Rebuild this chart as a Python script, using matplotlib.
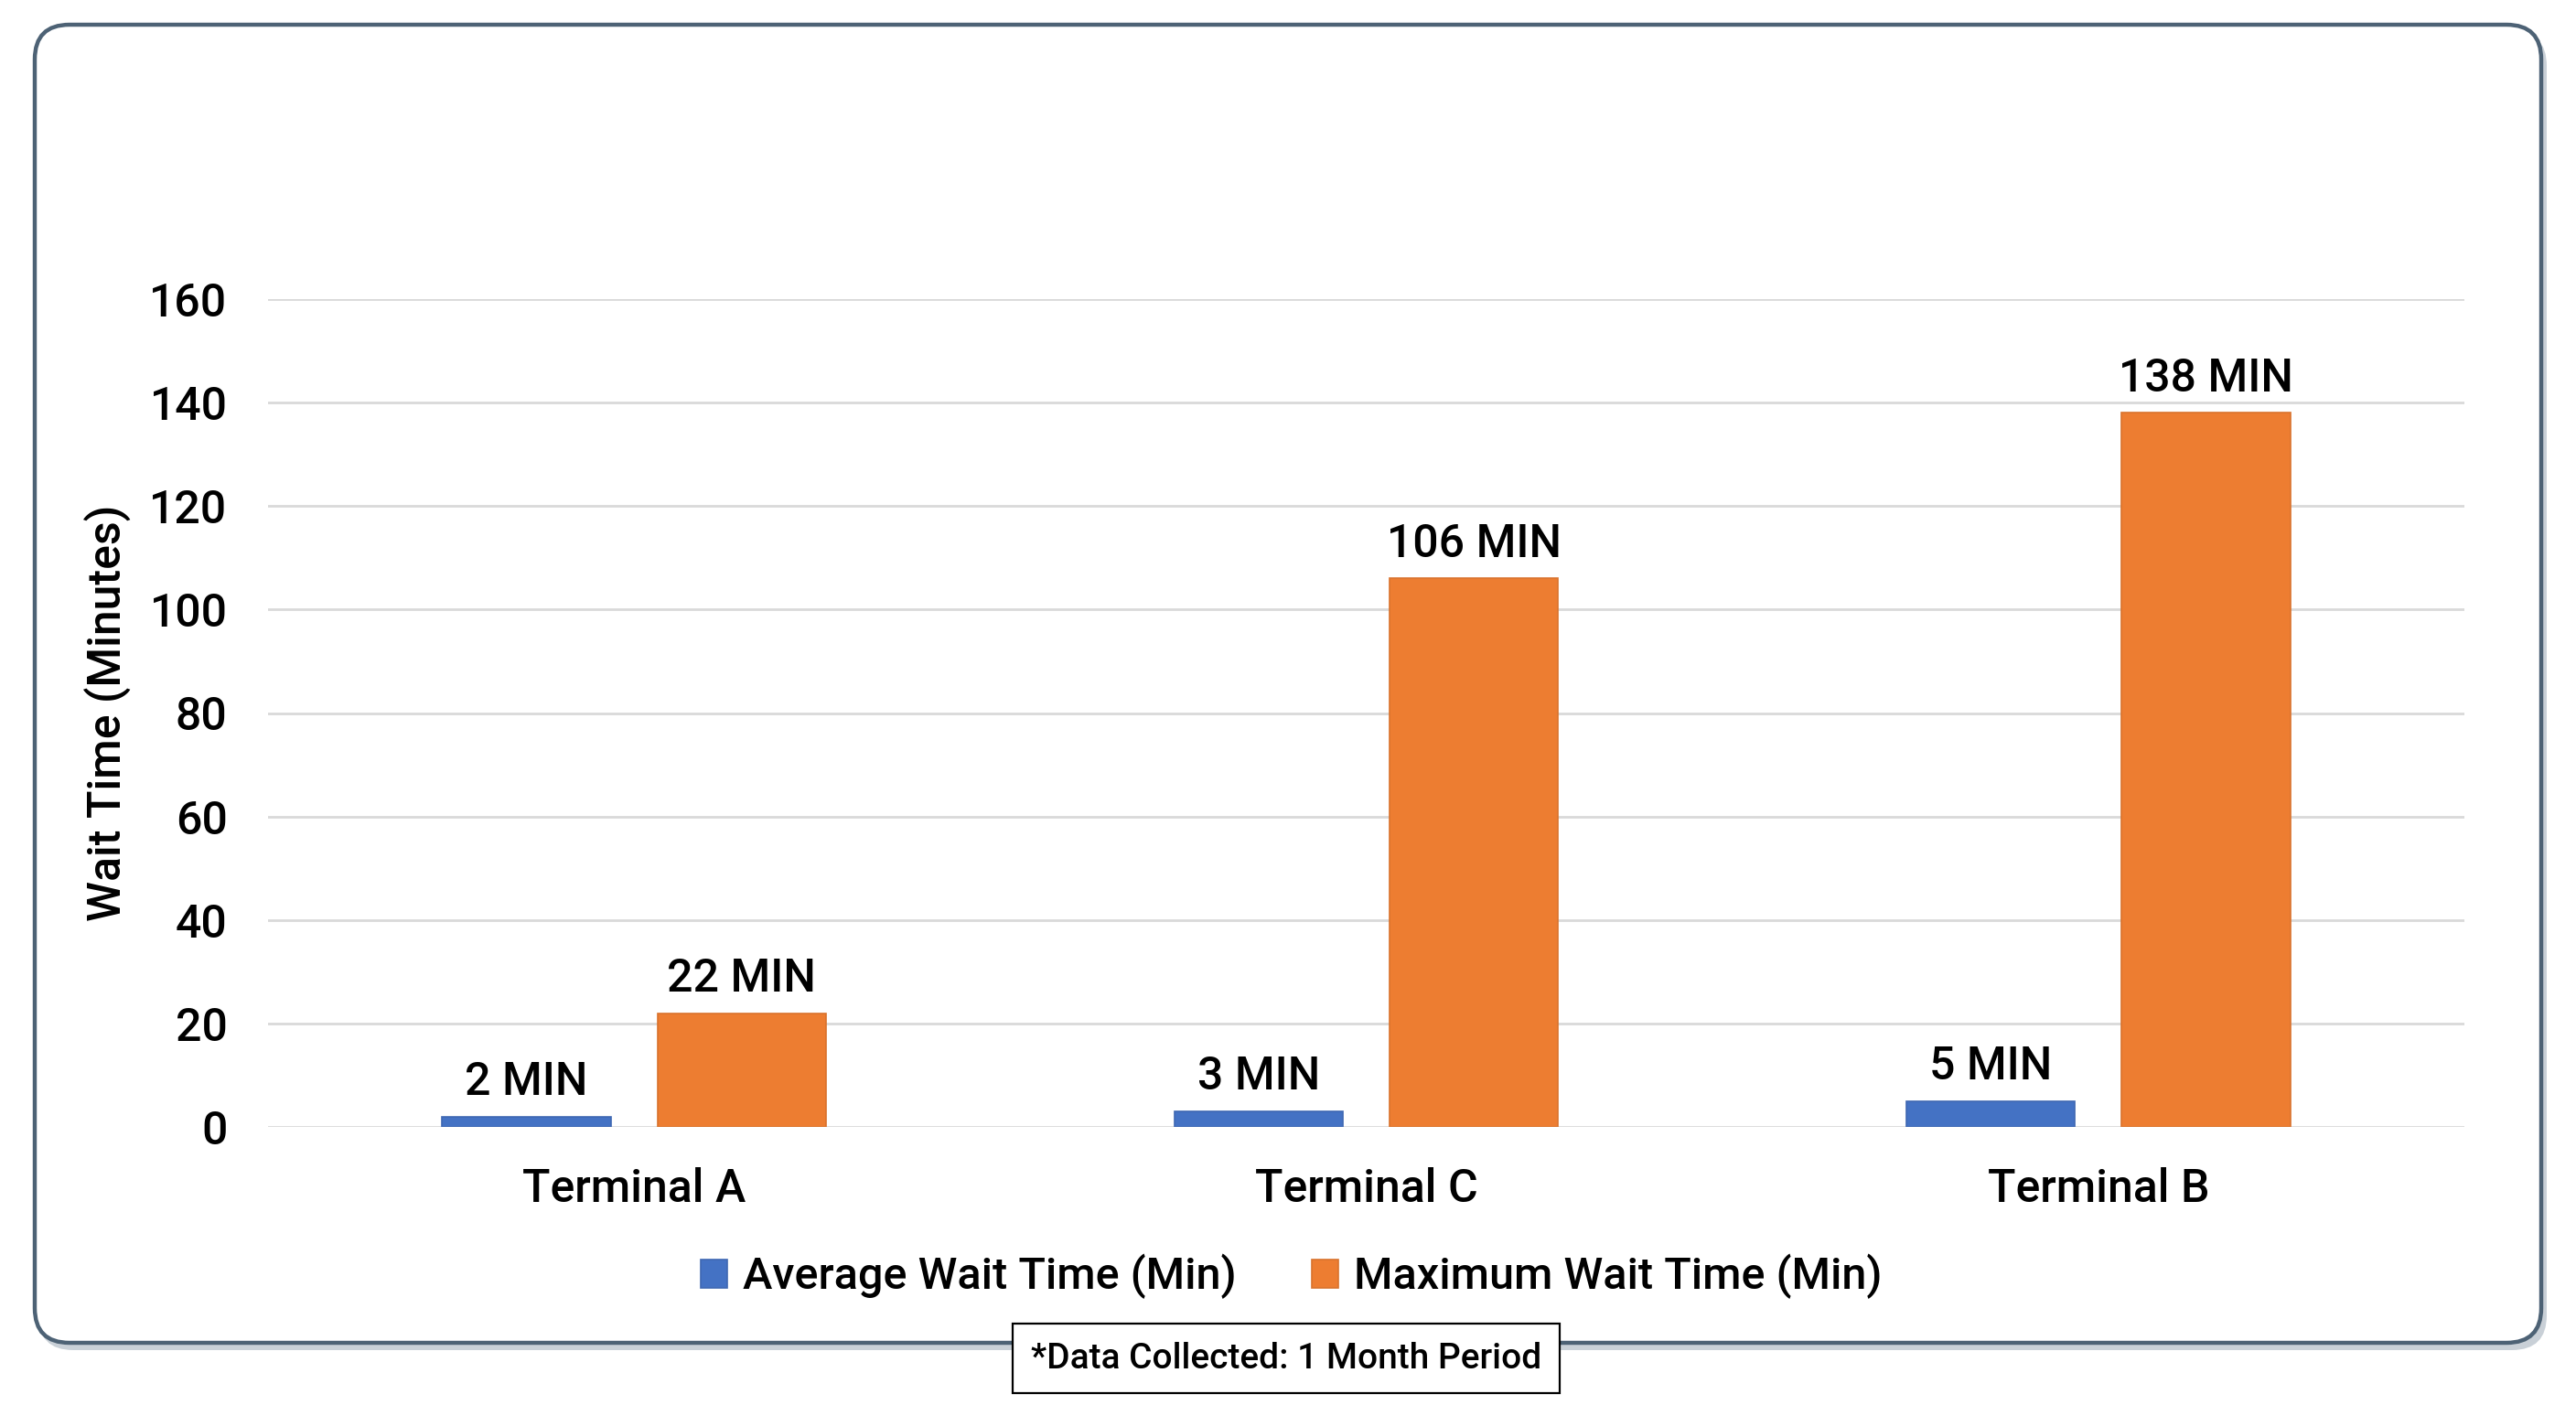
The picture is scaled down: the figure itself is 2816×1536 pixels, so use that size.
import matplotlib
matplotlib.use("Agg")
import matplotlib.pyplot as plt
from matplotlib.patches import FancyBboxPatch
import numpy as np

# data
terminals = ["Terminal A", "Terminal C", "Terminal B"]
avg_wait = [2, 3, 5]
max_wait = [22, 106, 138]
series_names = ["Average Wait Time (Min)", "Maximum Wait Time (Min)"]
y_ticks = [0, 20, 40, 60, 80, 100, 120, 140, 160]

blue = "#4472C4"
orange = "#ED7D31"
text_font = ["Roboto", "DejaVu Sans"]
tick_font = ["Roboto", "DejaVu Sans"]

W, H = 2816, 1536
fig = plt.figure(figsize=(W / 200, H / 200), dpi=200)
fig.patch.set_facecolor("white")

# background layer in pixel units for the rounded frame
bg = fig.add_axes([0, 0, 1, 1])
bg.set_xlim(0, W)
bg.set_ylim(0, H)
bg.axis("off")
shadow = FancyBboxPatch((42, 1536 - 1476), 2742, 1442,
                        boxstyle="round,pad=0,rounding_size=38",
                        facecolor="#c9d0d7", edgecolor="none", zorder=0)
bg.add_patch(shadow)
frame = FancyBboxPatch((38, 1536 - 1468), 2740, 1441,
                       boxstyle="round,pad=0,rounding_size=38",
                       facecolor="white", edgecolor="#4d6275", linewidth=1.6, zorder=1)
bg.add_patch(frame)

ax = fig.add_axes([293 / W, 1 - 1232 / H, (2694 - 293) / W, (1232 - 327) / H])
ax.set_facecolor("none")

x = np.arange(len(terminals))
width = 0.23
offset = 0.147
bars_avg = ax.bar(x - offset, avg_wait, width, color=blue, edgecolor="#3f68b3",
                  linewidth=0.6, label=series_names[0], zorder=3)
bars_max = ax.bar(x + offset, max_wait, width, color=orange, edgecolor="#d9732d",
                  linewidth=0.6, label=series_names[1], zorder=3)

for bars in (bars_avg, bars_max):
    for b in bars:
        ax.annotate(f"{int(b.get_height())} MIN",
                    (b.get_x() + b.get_width() / 2, b.get_height()),
                    xytext=(0, 5), textcoords="offset points",
                    ha="center", va="bottom", fontsize=18,
                    family=text_font, fontweight="medium", color="black")

ax.set_xlim(-0.5, len(terminals) - 0.5)
ax.set_ylim(0, 160)
ax.set_yticks(y_ticks)
ax.set_yticklabels([str(t) for t in y_ticks], family=tick_font, fontsize=18,
                   fontweight="medium")
ax.set_xticks(x)
ax.set_xticklabels(terminals, family=text_font, fontsize=18, fontweight="medium")
ax.tick_params(axis="both", length=0)
ax.tick_params(axis="y", pad=16)
ax.tick_params(axis="x", pad=16)
ax.yaxis.grid(True, color="#d9d9d9", linewidth=1.0, zorder=0)
for s in ax.spines.values():
    s.set_visible(False)
ax.set_ylabel("Wait Time (Minutes)", family=text_font, fontsize=18,
              fontweight="medium", labelpad=7)

# legend sits a little left of the plot centre in the reference
leg = ax.legend(loc="upper center", bbox_to_anchor=(0.466, -0.105), ncol=2,
                frameon=False, prop={"family": text_font, "size": 17.5, "weight": "medium"},
                handlelength=0.6, handleheight=0.6, handletextpad=0.35,
                columnspacing=1.7)

fig.text(1406 / W, 1 - 1485 / H, "*Data Collected: 1 Month Period",
         ha="center", va="center", fontsize=14, family=text_font,
         fontweight="medium",
         bbox=dict(boxstyle="square,pad=0.5", facecolor="white",
                   edgecolor="black", linewidth=0.8), zorder=5)

fig.savefig("out.png", dpi=200, facecolor="white")
